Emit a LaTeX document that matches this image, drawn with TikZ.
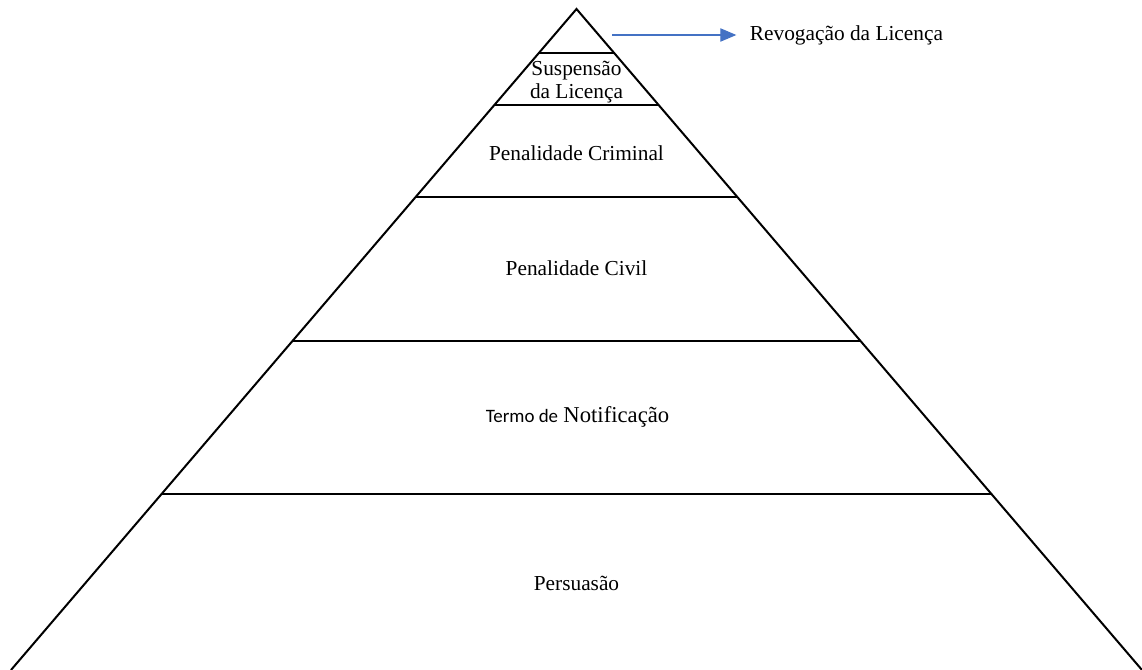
\documentclass[tikz,border=0pt]{standalone}
\usepackage{fontspec}
\setmainfont{Liberation Serif}
\newfontfamily\calibrifont{Carlito}
\usetikzlibrary{arrows.meta}
\definecolor{revblue}{HTML}{4472C4}

\begin{document}
\begin{tikzpicture}[x=0.75pt,y=-0.75pt,
        level/.style={line width=1.5pt},
        tier/.style={font=\fontsize{16}{17.5}\selectfont, align=center, inner sep=2pt},
        revarrow/.style={draw=revblue, line width=0.8pt, -{Triangle[length=12pt,width=10pt]}, shorten >=8pt}]
    \useasboundingbox (0,0) rectangle (1142,670);
    % outline of the pyramid
    \draw[level, line join=miter] (11,670) -- (576.5,9) -- (1142,670);
    % the levels
    \foreach \y in {53,105,197,341,494}
        \draw[level] ({576.5-0.856*(\y-9)},\y) -- ({576.5+0.856*(\y-9)},\y);
    \node[tier] (suspensao) at (576.5,82) {Suspensão\\da Licença};
    \node[tier] (criminal) at (576.5,153) {Penalidade Criminal};
    \node[tier] (civil) at (576.5,268) {Penalidade Civil};
    \node[tier] (notificacao) at (577.5,417) {{\calibrifont\fontsize{14.2}{15}\selectfont Termo de} {\fontsize{17}{18}\selectfont Notificação}};
    \node[tier] (persuasao) at (576.5,583) {Persuasão};
    % top of the pyramid
    \coordinate (topright) at (612,35);
    \node[tier, anchor=west] (revogacao) at (747,35) {Revogação da Licença};
    \draw[revarrow] (topright) -- (revogacao.west);
\end{tikzpicture}
\end{document}
